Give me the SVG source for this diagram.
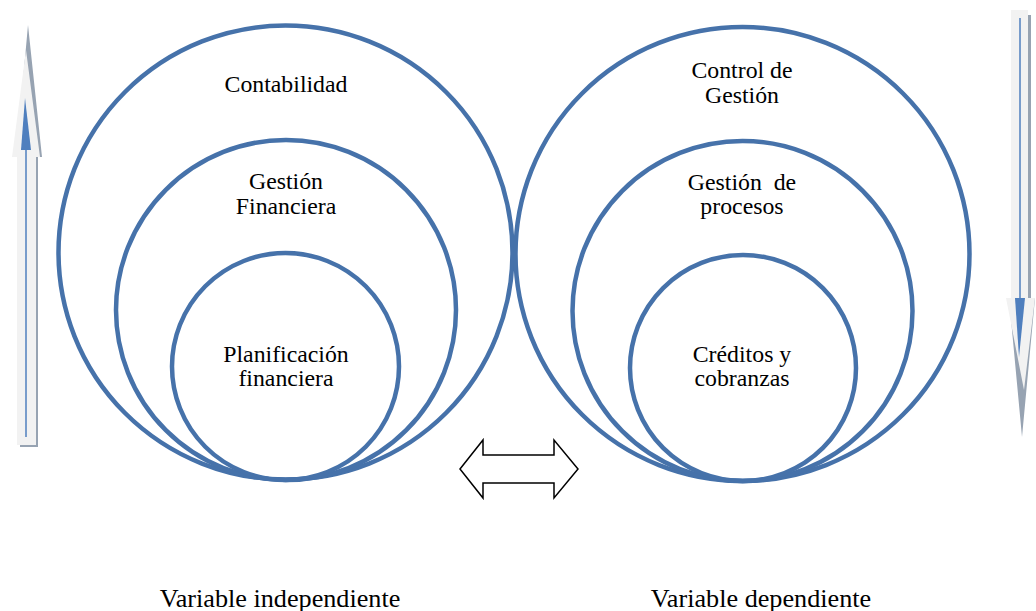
<svg xmlns="http://www.w3.org/2000/svg" width="1036" height="611" viewBox="0 0 1036 611">
<style>
.c{fill:none;stroke:#4672AA;stroke-width:4.5}
.t{font-family:"Liberation Serif","Times New Roman",serif;font-size:23.8px;fill:#000;text-anchor:middle}
.b{font-size:26.2px}
.gray{fill:#97A3B2}
.light{fill:#F2F2F2}
.blue{fill:#4F7FBE}
</style>
<rect width="1036" height="611" fill="#fff"/>
<g id="left-arrow">
<polygon class="gray" points="28,25 42,157 38,157 38,447 20,447 20,157 16,157"/>
<polygon class="light" points="26,50 40,157 36,157 36,445 17,445 17,157 12,157"/>
<line x1="26" y1="150" x2="26" y2="437" stroke="#4F7FBE" stroke-width="1.5"/>
<polygon class="blue" points="25,98 31,150 21,150"/>
</g>
<g id="right-arrow">
<polygon class="gray" points="1014,15 1031,15 1031,298 1035,298 1022,437 1009,298 1014,298"/>
<polygon class="light" points="1011,10 1028,10 1028,298 1035,298 1024,390 1006,298 1011,298"/>
<line x1="1020" y1="18" x2="1020" y2="300" stroke="#4F7FBE" stroke-width="1.5"/>
<polygon class="blue" points="1015,298 1025,298 1019,357"/>
</g>
<g id="contabilidad">
<circle class="c" cx="285.5" cy="252.5" r="227"/>
<text class="t" x="286" y="92">Contabilidad</text>
</g>
<g id="gestion-financiera">
<circle class="c" cx="286" cy="310" r="170"/>
<text class="t" x="286" y="189">Gestión</text>
<text class="t" x="286" y="214">Financiera</text>
</g>
<g id="planificacion">
<circle class="c" cx="285.5" cy="366.5" r="113.5"/>
<text class="t" x="286" y="362">Planificación</text>
<text class="t" x="286" y="386">financiera</text>
</g>
<g id="control-gestion">
<circle class="c" cx="742.5" cy="254" r="227"/>
<text class="t" x="742" y="78">Control de</text>
<text class="t" x="742" y="103">Gestión</text>
</g>
<g id="gestion-procesos">
<circle class="c" cx="742.5" cy="311" r="170"/>
<text class="t" x="742" y="190" xml:space="preserve">Gestión  de</text>
<text class="t" x="742" y="214">procesos</text>
</g>
<g id="creditos">
<circle class="c" cx="743" cy="368" r="113"/>
<text class="t" x="742" y="362">Créditos y</text>
<text class="t" x="742" y="386">cobranzas</text>
</g>
<g id="connectors">
<polygon points="460,469 483,440 483,455 554,455 554,440 578,469 554,498 554,483 483,483 483,498" fill="#fff" stroke="#000" stroke-width="1.5"/>
</g>
<g id="labels">
<text class="t b" x="280" y="607">Variable independiente</text>
<text class="t b" x="761" y="607">Variable dependiente</text>
</g>
</svg>
